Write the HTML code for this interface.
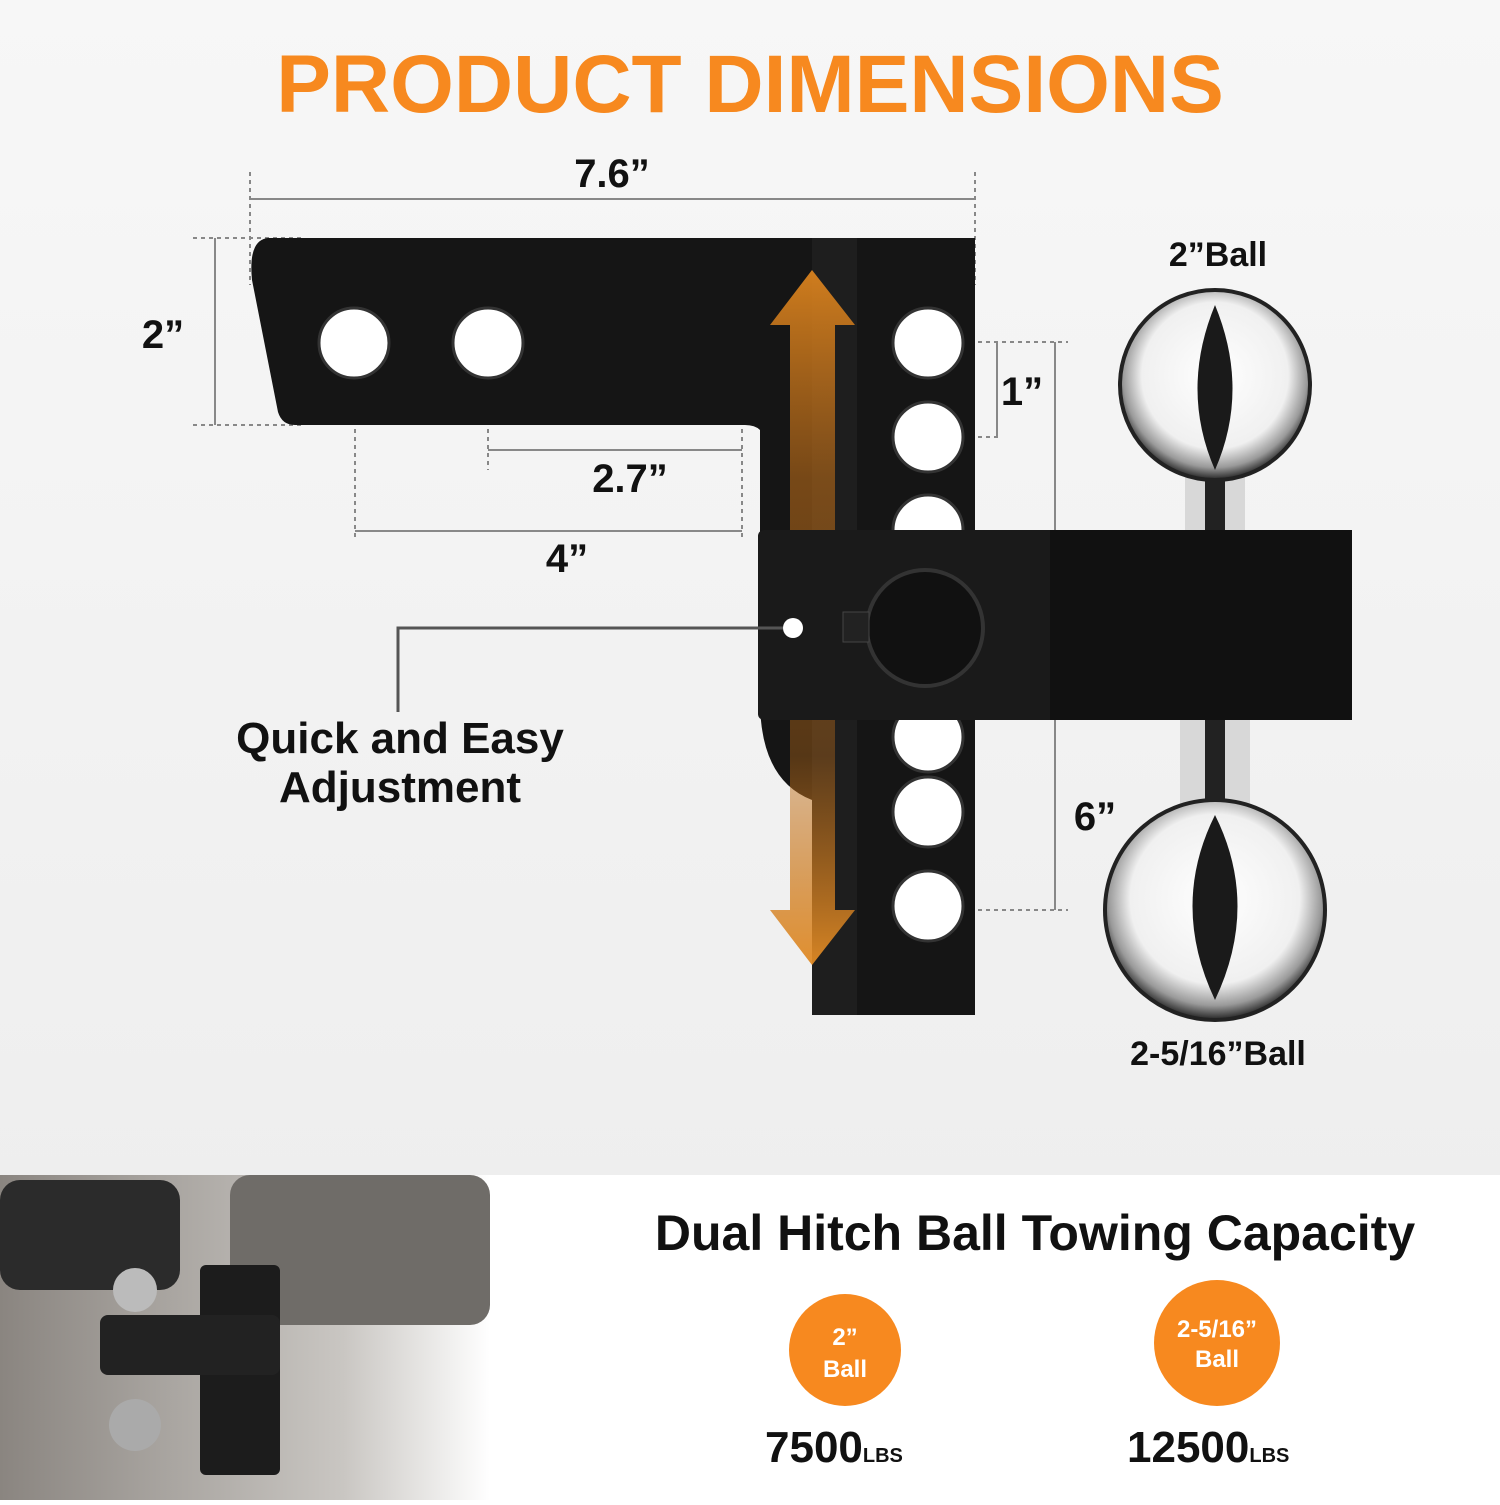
<!DOCTYPE html>
<html><head><meta charset="utf-8"><style>
html,body{margin:0;padding:0}
body{width:1500px;height:1500px;overflow:hidden;font-family:"Liberation Sans",sans-serif}
</style></head><body>
<svg width="1500" height="1500" viewBox="0 0 1500 1500" xmlns="http://www.w3.org/2000/svg">
<defs>
<linearGradient id="bg" x1="0" y1="0" x2="0" y2="1">
<stop offset="0" stop-color="#f7f7f7"/><stop offset="1" stop-color="#ececec"/></linearGradient>
<radialGradient id="chrome" cx="0.5" cy="0.45" r="0.55">
<stop offset="0" stop-color="#ffffff"/><stop offset="0.7" stop-color="#f0f0f0"/><stop offset="0.88" stop-color="#9a9a9a"/><stop offset="1" stop-color="#222"/></radialGradient>
<linearGradient id="arr" x1="0" y1="0" x2="0" y2="1">
<stop offset="0" stop-color="#d9821e" stop-opacity="0.95"/><stop offset="0.3" stop-color="#b86a18" stop-opacity="0.6"/><stop offset="0.7" stop-color="#b86a18" stop-opacity="0.4"/><stop offset="1" stop-color="#e08a25" stop-opacity="0.95"/></linearGradient>
<linearGradient id="photo" x1="0" y1="0" x2="1" y2="0">
<stop offset="0" stop-color="#8a8580"/><stop offset="0.7" stop-color="#c9c6c2"/><stop offset="1" stop-color="#ffffff"/></linearGradient>
</defs>
<rect width="1500" height="1500" fill="url(#bg)"/>
<rect x="0" y="1175" width="1500" height="325" fill="#fff"/>
<text x="750" y="112" text-anchor="middle" font-size="82" font-weight="bold" fill="#f7891f">PRODUCT DIMENSIONS</text>

<g stroke="#888" stroke-width="2" fill="none" stroke-dasharray="4 4">
<line x1="250" y1="172" x2="250" y2="285"/><line x1="975" y1="172" x2="975" y2="285"/>
<line x1="193" y1="238" x2="305" y2="238"/><line x1="193" y1="425" x2="305" y2="425"/>
<line x1="355" y1="365" x2="355" y2="540"/><line x1="488" y1="365" x2="488" y2="470"/>
<line x1="742" y1="365" x2="742" y2="540"/>
<line x1="930" y1="342" x2="1068" y2="342"/><line x1="930" y1="437" x2="1000" y2="437"/>
<line x1="930" y1="910" x2="1068" y2="910"/>
</g>
<g stroke="#888" stroke-width="2" fill="none">
<line x1="250" y1="199" x2="975" y2="199"/>
<line x1="215" y1="238" x2="215" y2="425"/>
<line x1="488" y1="450" x2="742" y2="450"/>
<line x1="355" y1="531" x2="742" y2="531"/>
<line x1="997" y1="342" x2="997" y2="437"/>
<line x1="1055" y1="342" x2="1055" y2="910"/>
</g>
<g font-weight="bold" fill="#111" font-size="40" text-anchor="middle">
<text x="612" y="187">7.6”</text>
<text x="163" y="348">2”</text>
<text x="630" y="492">2.7”</text>
<text x="567" y="572">4”</text>
<text x="1022" y="405">1”</text>
<text x="1095" y="830">6”</text>
<text x="1218" y="266" font-size="34">2”Ball</text>
<text x="1218" y="1065" font-size="34">2-5/16”Ball</text>
<text x="400" y="753" font-size="44">Quick and Easy</text>
<text x="400" y="802" font-size="44">Adjustment</text>
</g>

<path d="M268 238 L975 238 L975 1015 L822 1015 Q812 1015 812 1005 L812 800 Q760 780 760 700 L760 430 Q755 425 745 425 L295 425 Q282 425 278 412 L252 280 Q248 240 268 238Z" fill="#151515"/>
<rect x="812" y="238" width="45" height="777" fill="#1e1e1e"/>
<g fill="#fff" stroke="#333" stroke-width="3">
<circle cx="354" cy="343" r="35"/><circle cx="488" cy="343" r="35"/>
<circle cx="928" cy="343" r="35"/><circle cx="928" cy="437" r="35"/><circle cx="928" cy="530" r="35"/>
<circle cx="928" cy="737" r="35"/><circle cx="928" cy="812" r="35"/><circle cx="928" cy="906" r="35"/>
</g>
<path d="M812 270 L855 325 L835 325 L835 910 L855 910 L812 965 L770 910 L790 910 L790 325 L770 325Z" fill="url(#arr)"/>

<rect x="1185" y="440" width="60" height="100" fill="#d8d8d8"/>
<rect x="1205" y="440" width="20" height="100" fill="#222"/>
<circle cx="1215" cy="385" r="95" fill="url(#chrome)" stroke="#222" stroke-width="4"/>
<path d="M1215 305 Q1250 390 1215 470 Q1180 390 1215 305Z" fill="#1a1a1a"/>
<rect x="1180" y="710" width="70" height="100" fill="#d8d8d8"/>
<rect x="1205" y="710" width="20" height="100" fill="#222"/>
<circle cx="1215" cy="910" r="110" fill="url(#chrome)" stroke="#222" stroke-width="4"/>
<path d="M1215 815 Q1260 905 1215 1000 Q1170 905 1215 815Z" fill="#1a1a1a"/>

<rect x="758" y="530" width="594" height="190" rx="6" fill="#1a1a1a"/>
<rect x="1050" y="530" width="302" height="190" fill="#111"/>
<circle cx="925" cy="628" r="58" fill="#111" stroke="#333" stroke-width="4"/>
<rect x="843" y="612" width="26" height="30" fill="#222" stroke="#444"/>
<circle cx="793" cy="628" r="10" fill="#fff"/>
<polyline points="783,628 398,628 398,712" fill="none" stroke="#555" stroke-width="3"/>

<rect x="0" y="1175" width="490" height="325" fill="url(#photo)"/>
<rect x="0" y="1180" width="180" height="110" rx="20" fill="#2b2b2b"/>
<rect x="230" y="1175" width="260" height="150" rx="20" fill="#6f6c68"/>
<rect x="200" y="1265" width="80" height="210" rx="6" fill="#1c1c1c"/>
<rect x="100" y="1315" width="180" height="60" rx="8" fill="#222"/>
<circle cx="135" cy="1290" r="22" fill="#bbb"/><circle cx="135" cy="1425" r="26" fill="#aaa"/>

<text x="1035" y="1250" text-anchor="middle" font-size="50" font-weight="bold" fill="#111">Dual Hitch Ball Towing Capacity</text>
<circle cx="845" cy="1350" r="56" fill="#f7891f"/>
<circle cx="1217" cy="1343" r="63" fill="#f7891f"/>
<g fill="#fff" font-size="24" font-weight="bold" text-anchor="middle">
<text x="845" y="1345">2”</text><text x="845" y="1377">Ball</text>
<text x="1217" y="1337">2-5/16”</text><text x="1217" y="1367">Ball</text>
</g>
<g font-weight="bold" fill="#111">
<text x="765" y="1462" font-size="44">7500<tspan font-size="20">LBS</tspan></text>
<text x="1127" y="1462" font-size="44">12500<tspan font-size="20">LBS</tspan></text>
</g>
</svg>
</body></html>
